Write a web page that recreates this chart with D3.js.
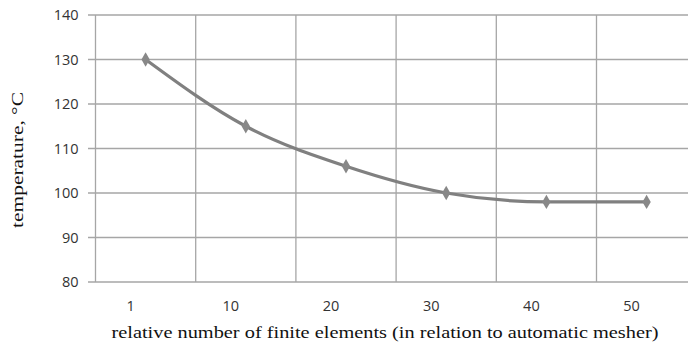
<!DOCTYPE html>
<html><head><meta charset="utf-8">
<script src="https://cdn.jsdelivr.net/npm/d3@7"></script>
<style>body{margin:0;background:#fff}svg{display:block}</style>
</head><body>
<script>
const categories = ["1","10","20","30","40","50"];
const temperature = [130,115,106,100,98,98];
const yTicks = [80,90,100,110,120,130,140];

const W=688,H=346;
const svg=d3.select("body").append("svg").attr("width",W).attr("height",H);
const pLeft=95.5, pTop=15, pBottom=282, bandW=100.2;
const x=d3.scaleBand().domain(categories).range([pLeft,pLeft+bandW*categories.length]);
const y=d3.scaleLinear().domain([80,140]).range([pBottom,pTop]);
const grid="#a6a6a6";

// horizontal grid + y tick marks
svg.append("g").selectAll("line").data(yTicks).join("line")
  .attr("x1",88).attr("x2",W).attr("y1",d=>y(d)).attr("y2",d=>y(d))
  .attr("stroke",grid).attr("stroke-width",1.5);
// vertical grid at band boundaries
const bounds=categories.map(c=>x(c)).concat([x(categories[categories.length-1])+x.bandwidth()]);
svg.append("g").selectAll("line").data(bounds).join("line")
  .attr("x1",d=>d).attr("x2",d=>d).attr("y1",pTop).attr("y2",pBottom)
  .attr("stroke",grid).attr("stroke-width",1.3);

// y axis labels
const ya=svg.append("g").attr("transform",`translate(${pLeft},0)`)
  .call(d3.axisLeft(y).tickValues(yTicks).tickSize(0).tickPadding(17).tickFormat(d3.format("d")));
ya.select(".domain").remove();
ya.selectAll("text").attr("font-family","'Open Sans',sans-serif").attr("font-size",14.5).attr("fill","#333");

// x axis labels (offset left as in reference)
const xa=svg.append("g").attr("transform",`translate(0,${pBottom})`)
  .call(d3.axisBottom(x).tickSize(0).tickPadding(19));
xa.select(".domain").remove();
xa.selectAll("text").attr("font-family","'Open Sans',sans-serif").attr("font-size",14.5).attr("fill","#333").attr("dx",-15);

// line
const pts=categories.map((c,i)=>[x(c)+x.bandwidth()/2,y(temperature[i])]);
svg.append("path").datum(pts).attr("d",d3.line().curve(d3.curveMonotoneX))
  .attr("fill","none").attr("stroke","#808080").attr("stroke-width",3.2);
svg.append("g").selectAll("path").data(pts).join("path")
  .attr("transform",d=>`translate(${d[0]},${d[1]})`)
  .attr("d",d3.symbol(d3.symbolDiamond,60))
  .attr("fill","#888");

// titles
svg.append("text").attr("x",385).attr("y",338).attr("text-anchor","middle")
  .attr("font-family","'Liberation Serif',serif").attr("font-size",17).attr("fill","#111")
  .attr("textLength",547).attr("lengthAdjust","spacingAndGlyphs")
  .text("relative number of finite elements (in relation to automatic mesher)");
svg.append("text").attr("transform","translate(23,160) rotate(-90)").attr("text-anchor","middle")
  .attr("font-family","'Liberation Serif',serif").attr("font-size",16).attr("fill","#111")
  .attr("textLength",136).attr("lengthAdjust","spacingAndGlyphs")
  .text("temperature, °C");
</script>
</body></html>
